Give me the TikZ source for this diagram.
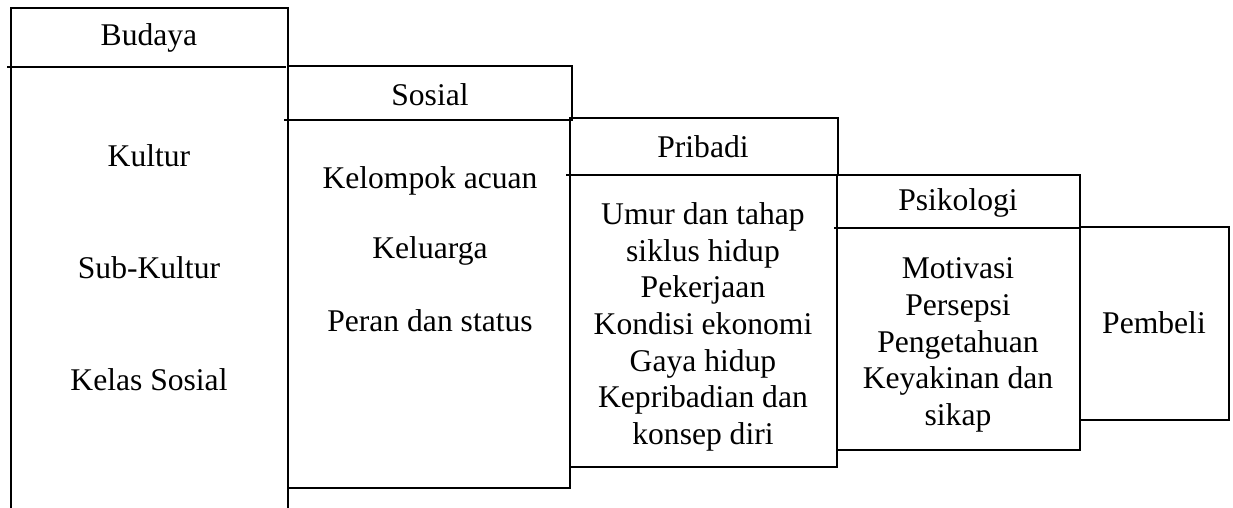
\documentclass[tikz,border=0pt]{standalone}
\usepackage{fontspec}
\setmainfont{Liberation Serif}

\tikzset{garis/.style={line width=1pt,line cap=rect},
         teks/.style={font=\fontsize{15.8}{18.3}\selectfont,align=center,inner sep=0pt}}

\begin{document}
\begin{tikzpicture}[x=0.5pt,y=-0.5pt]
                  \useasboundingbox (0,0) rectangle (1233,508);
                  % Budaya
                  \draw[garis] (11,508) -- (11,8) -- (288,8) -- (288,508);
                  \draw[garis] (8,67) -- (285,67);
                  % Sosial
                  \draw[garis] (288,66) -- (572,66) -- (572,120);
                  \draw[garis] (285,120) -- (568,120);
                  \draw[garis] (570,120) -- (570,488) -- (288,488);
                  % Pribadi
                  \draw[garis] (570,118) -- (838,118) -- (838,175);
                  \draw[garis] (567,175) -- (835,175);
                  \draw[garis] (837,175) -- (837,467) -- (570,467);
                  % Psikologi
                  \draw[garis] (838,175) -- (1080,175) -- (1080,228);
                  \draw[garis] (835,228) -- (1078,228);
                  \draw[garis] (1080,228) -- (1080,450) -- (837,450);
                  % Pembeli
                  \draw[garis] (1080,227) -- (1229,227) -- (1229,420) -- (1080,420);
                  % teks
                  \node[teks] (budaya) at (149,38) {Budaya};
                  \node[teks] (kultur) at (149,156) {Kultur};
                  \node[teks] (subkultur) at (149,268) {Sub-Kultur};
                  \node[teks] (kelas) at (149,380) {Kelas Sosial};
                  \node[teks] (sosial) at (430,95) {Sosial};
                  \node[teks] (acuan) at (430,181) {Kelompok acuan};
                  \node[teks] (keluarga) at (430,251) {Keluarga};
                  \node[teks] (peran) at (430,321) {Peran dan status};
                  \node[teks] (pribadi) at (703,147) {Pribadi};
                  \node[teks] (isipribadi) at (703,327) {Umur dan tahap\\siklus hidup\\Pekerjaan\\Kondisi ekonomi\\Gaya hidup\\Kepribadian dan\\konsep diri};
                  \node[teks] (psikologi) at (958,203) {Psikologi};
                  \node[teks] (isipsikologi) at (958,345) {Motivasi\\Persepsi\\Pengetahuan\\Keyakinan dan\\sikap};
                  \node[teks] (pembeli) at (1154,323) {Pembeli};
              \end{tikzpicture}
\end{document}
